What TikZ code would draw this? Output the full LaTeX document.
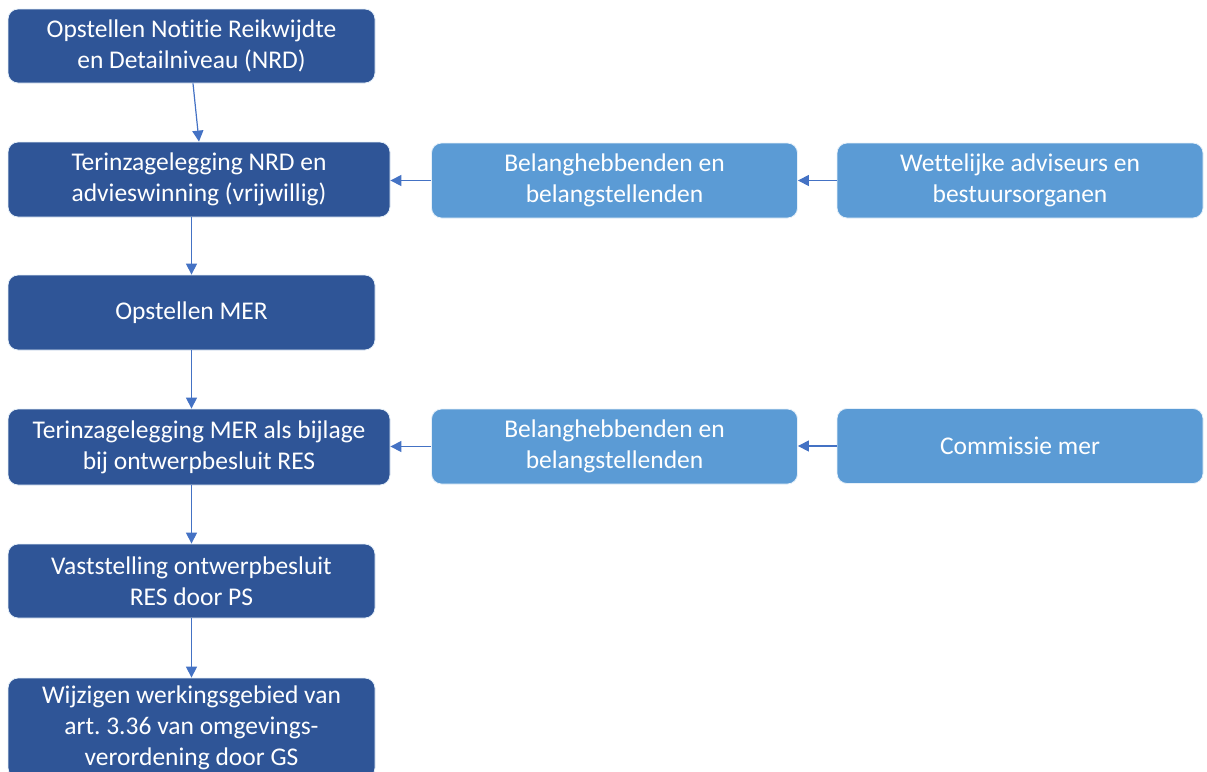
\documentclass[tikz,border=0pt]{standalone}
\usepackage{fontspec}
\setmainfont[Ligatures={NoCommon}]{Carlito}
\usetikzlibrary{arrows.meta}
\definecolor{darkbox}{HTML}{2F5597}
\definecolor{lightbox}{HTML}{5B9BD5}
\definecolor{arrowc}{HTML}{4472C4}
\frenchspacing
\tikzset{
  basebox/.style={rectangle, rounded corners=10pt, draw=white!85!lightbox, line width=0.8pt,
    text=white, align=center, font=\fontsize{25.5}{31}\selectfont, inner sep=0pt},
  darkbox/.style={basebox, fill=darkbox},
  lightbox/.style={basebox, fill=lightbox},
  flow/.style={draw=arrowc, line width=1.2pt, -{Triangle[length=11pt,width=11pt]}}
}
\begin{document}
\begin{tikzpicture}[x=1pt,y=-1pt]
\useasboundingbox (0,0) rectangle (1207,771);
\clip (0,0) rectangle (1207,771);
\node[darkbox, minimum width=367pt, minimum height=74pt] (b1) at (191.5,46) {Opstellen Notitie Reikwijdte\\en Detailniveau (NRD)};
\node[darkbox, minimum width=382pt, minimum height=75pt] (b2) at (199,179.5) {Terinzagelegging NRD en\\advieswinning (vrijwillig)};
\node[darkbox, minimum width=367pt, minimum height=75pt] (b3) at (191.5,312.5) {Opstellen MER};
\node[darkbox, minimum width=382pt, minimum height=76pt] (b4) at (199,447) {Terinzagelegging MER als bijlage\\bij ontwerpbesluit RES};
\node[darkbox, minimum width=367pt, minimum height=74pt] (b5) at (191.5,581) {Vaststelling ontwerpbesluit\\RES door PS};
\node[darkbox, minimum width=367pt, minimum height=100pt] (b6) at (191.5,728) {Wijzigen werkingsgebied van\\art. 3.36 van omgevings-\\verordening door GS};
\node[lightbox, minimum width=366pt, minimum height=75pt] (r1) at (614.5,180.5) {Belanghebbenden en\\belangstellenden};
\node[lightbox, minimum width=366pt, minimum height=75pt] (r2) at (1020,180.5) {Wettelijke adviseurs en\\bestuursorganen};
\node[lightbox, minimum width=366pt, minimum height=75pt] (r3) at (614.5,446.5) {Belanghebbenden en\\belangstellenden};
\node[lightbox, minimum width=366pt, minimum height=75pt] (r4) at (1020,446) {Commissie mer};
\draw[flow] ([xshift=1.5pt]b1.south) -- (b2.north);
\draw[flow] (b3.north |- b2.south) -- (b3.north);
\draw[flow] (b3.south) -- (b3.south |- b4.north);
\draw[flow] (b5.north |- b4.south) -- (b5.north);
\draw[flow] (b5.south) -- (b6.north);
\draw[flow] (r1.west) -- (r1.west -| b2.east);
\draw[flow] (r2.west) -- (r2.west -| r1.east);
\draw[flow] (r3.west) -- (r3.west -| b4.east);
\draw[flow] (r4.west) -- (r4.west -| r3.east);
\end{tikzpicture}
\end{document}
